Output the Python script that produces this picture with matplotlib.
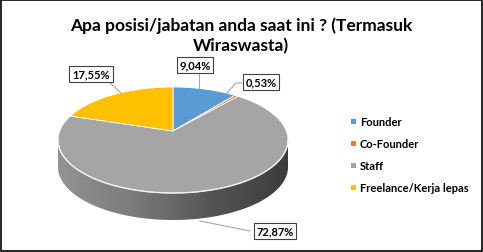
import numpy as np
import matplotlib
matplotlib.use("Agg")
import matplotlib.pyplot as plt
from matplotlib.patches import Polygon, Rectangle
from matplotlib.colors import LinearSegmentedColormap

categories = ["Founder", "Co-Founder", "Staff", "Freelance/Kerja lepas"]
values = [9.04, 0.53, 72.87, 17.55]
labels = ["9,04%", "0,53%", "72,87%", "17,55%"]
colors = ["#5B9BD5", "#ED7D31", "#A5A5A5", "#FFC000"]
title = "Apa posisi/jabatan anda saat ini ? (Termasuk\nWiraswasta)"

W, H = 483, 253
fig = plt.figure(figsize=(W / 100, H / 100), dpi=100)
ax = fig.add_axes([0, 0, 1, 1])
ax.set_xlim(0, W)
ax.set_ylim(H, 0)
ax.axis("off")

FONT = ["Lato", "DejaVu Sans"]

# border
ax.add_patch(Rectangle((0.5, 0.5), W - 1.5, H - 1.5, fill=False, ec="#000000", lw=1.2))

cx, cy, rx, ry, depth = 173, 141, 115, 53, 27
apex = (173, 132)


def pt(theta_deg, dy=0):
    t = np.radians(theta_deg)
    return cx + rx * np.sin(t), cy - ry * np.cos(t) + dy


# side (front half)
th = np.linspace(90, 270, 200)
top = np.array([pt(t) for t in th])
bot = np.array([pt(t, depth) for t in th[::-1]])
side = np.vstack([top, bot])
side_patch = Polygon(side, closed=True, fc="none", ec="none")
ax.add_patch(side_patch)
cmap = LinearSegmentedColormap.from_list("g", ["#939393", "#7a7a7a", "#555555", "#3c3c3c"])
grad = np.linspace(0, 1, 256).reshape(1, -1)
im = ax.imshow(grad, cmap=cmap, extent=(cx - rx, cx + rx, cy + ry + depth, cy - 5),
               aspect="auto", zorder=1)
im.set_clip_path(side_patch)

# top wedges
total = sum(values)
start = 0.0
for v, c in zip(values, colors):
    span = 360 * v / total
    ts = np.linspace(start, start + span, max(3, int(span)))
    verts = [apex] + [pt(t) for t in ts]
    ax.add_patch(Polygon(verts, closed=True, fc=c, ec="white", lw=0.6, zorder=3))
    start += span

# highlight edge between top and side
ax.plot(top[:, 0], top[:, 1], color="#f0f0f0", lw=1.0, zorder=4)

# labels
label_pos = [(195, 66), (261, 83), (275, 232), (91, 75)]
leader = [
    [(199, 74), (199, 89)],
    [(242, 84), (236, 84), (226, 95)],
    [(250, 232), (200, 222)],
    [(109, 83), (121, 94)],
]
for lab, (lx, ly), ln in zip(labels, label_pos, leader):
    ln = np.array(ln)
    ax.plot(ln[:, 0], ln[:, 1], color="#a6a6a6", lw=0.8, zorder=5)
    ax.text(lx, ly, lab, ha="center", va="center", fontsize=8, fontweight="bold",
            family=FONT, color="#000000", zorder=6,
            bbox=dict(boxstyle="square,pad=0.25", fc="white", ec="#404040", lw=0.8))

# title
ax.text(241, 36, title, ha="center", va="center", fontsize=12.5, fontweight="bold",
        family=FONT, color="#000000", linespacing=1.25)

# legend
ly0 = 122
for i, (cat, c) in enumerate(zip(categories, colors)):
    y = ly0 + i * 22.2
    ax.add_patch(Rectangle((351, y - 2.5), 5, 5, fc=c, ec="none"))
    ax.text(360, y, cat, ha="left", va="center", fontsize=8, fontweight="bold",
            family=FONT, color="#000000")

fig.savefig("out.png", dpi=100)
